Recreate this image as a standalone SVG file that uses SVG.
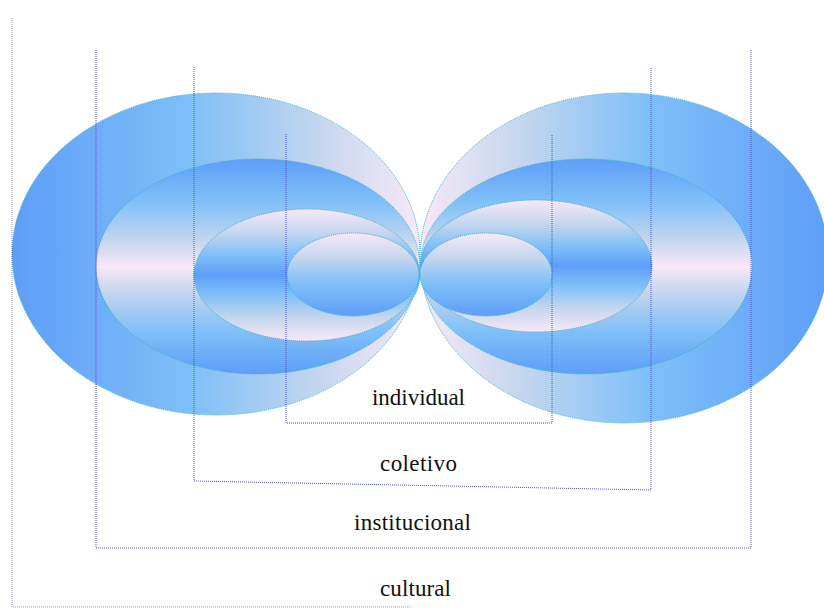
<svg xmlns="http://www.w3.org/2000/svg" width="824" height="610" viewBox="0 0 824 610">
<style>
.e{stroke:#30b4c0;stroke-width:1;stroke-dasharray:1 1}
.c{fill:none;stroke:#5050c0;stroke-width:1;stroke-dasharray:1 1}
.t{font-family:"Liberation Serif","Times New Roman",serif;font-size:23px;fill:#111}
</style>
<defs>
<linearGradient id="gL" x1="0" y1="0" x2="1" y2="0">
<stop offset="0" stop-color="#5e9ef8"/><stop offset="0.45" stop-color="#80c0f8"/><stop offset="0.75" stop-color="#c4d6ee"/><stop offset="1" stop-color="#f8e8f8"/>
</linearGradient>
<linearGradient id="gR" x1="1" y1="0" x2="0" y2="0">
<stop offset="0" stop-color="#5e9ef8"/><stop offset="0.45" stop-color="#80c0f8"/><stop offset="0.75" stop-color="#c4d6ee"/><stop offset="1" stop-color="#f8e8f8"/>
</linearGradient>
<linearGradient id="g2" x1="0" y1="0" x2="0" y2="1">
<stop offset="0" stop-color="#5e9ef8"/><stop offset="0.2" stop-color="#80c0f8"/><stop offset="0.38" stop-color="#c4d6ee"/><stop offset="0.5" stop-color="#f8e8f8"/><stop offset="0.62" stop-color="#c4d6ee"/><stop offset="0.8" stop-color="#80c0f8"/><stop offset="1" stop-color="#5e9ef8"/>
</linearGradient>
<linearGradient id="g3" x1="0" y1="0" x2="0" y2="1">
<stop offset="0" stop-color="#f8e8f8"/><stop offset="0.18" stop-color="#c4d6ee"/><stop offset="0.35" stop-color="#80c0f8"/><stop offset="0.5" stop-color="#5e9ef8"/><stop offset="0.65" stop-color="#80c0f8"/><stop offset="0.82" stop-color="#c4d6ee"/><stop offset="1" stop-color="#f8e8f8"/>
</linearGradient>
<linearGradient id="g4" x1="0" y1="0" x2="0" y2="1">
<stop offset="0" stop-color="#f8e8f8"/><stop offset="0.3" stop-color="#c4d6ee"/><stop offset="0.6" stop-color="#80c0f8"/><stop offset="1" stop-color="#5e9ef8"/>
</linearGradient>
</defs>
<g id="cultural">
<ellipse class="e" cx="216" cy="254" rx="204" ry="161" fill="url(#gL)"/>
<ellipse class="e" cx="624" cy="258" rx="204" ry="165" fill="url(#gR)"/>
</g>
<g id="institucional">
<ellipse class="e" cx="258" cy="266.5" rx="162" ry="107.5" fill="url(#g2)"/>
<ellipse class="e" cx="586" cy="266.5" rx="166" ry="107.5" fill="url(#g2)"/>
</g>
<g id="coletivo">
<ellipse class="e" cx="307" cy="275" rx="113" ry="66" fill="url(#g3)"/>
<ellipse class="e" cx="536" cy="266" rx="116" ry="66" fill="url(#g3)"/>
</g>
<g id="individual">
<ellipse class="e" cx="353" cy="274.5" rx="66" ry="41.5" fill="url(#g4)"/>
<ellipse class="e" cx="486" cy="274.5" rx="66" ry="41.5" fill="url(#g4)"/>
</g>
<g id="connectors">
<polyline class="c" points="12,18 12,607 410,607" stroke-opacity="0.6"/>
<polyline class="c" points="96,50 96,548 751,548 751,50"/>
<polyline class="c" points="194,67 194,481 651,490 651,67"/>
<polyline class="c" points="286,134 286,423 552,423 552,134"/>
</g>
<g id="labels">
<text class="t" x="372" y="405" textLength="93" lengthAdjust="spacing">individual</text>
<text class="t" x="380" y="471" textLength="77" lengthAdjust="spacing">coletivo</text>
<text class="t" x="354" y="530" textLength="117" lengthAdjust="spacing">institucional</text>
<text class="t" x="380" y="596" textLength="71" lengthAdjust="spacing">cultural</text>
</g>
</svg>
